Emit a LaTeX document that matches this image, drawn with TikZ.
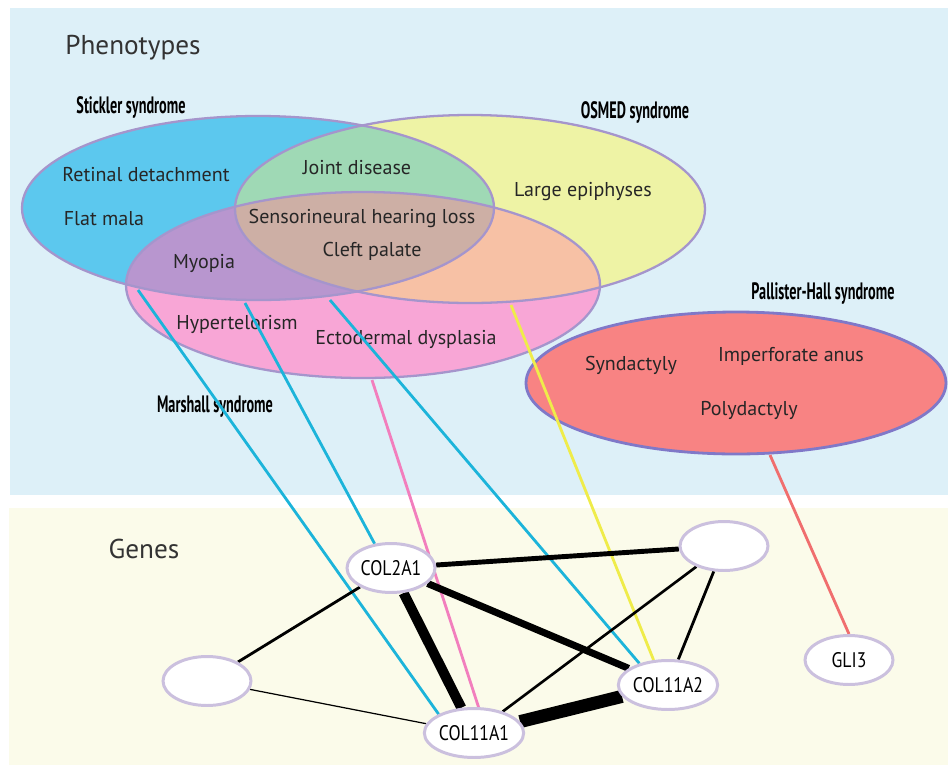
\documentclass[tikz,border=0pt]{standalone}
\usepackage{fontspec}
\setmainfont{PT Sans}
\usepackage{graphicx}
\usepackage{tikz}
\usetikzlibrary{shapes.geometric}
\definecolor{phbg}{HTML}{DDF0F8}
\definecolor{gnbg}{HTML}{FBFBEA}
\definecolor{stkc}{HTML}{5CC8EE}
\definecolor{osmc}{HTML}{EEF3A5}
\definecolor{mshc}{HTML}{F8A6D6}
\definecolor{grnc}{HTML}{9FD9B5}
\definecolor{purc}{HTML}{B896CF}
\definecolor{pchc}{HTML}{F7C1A5}
\definecolor{tanc}{HTML}{CDAFA5}
\definecolor{phc}{HTML}{F88383}
\definecolor{vout}{HTML}{A595CC}
\definecolor{phout}{HTML}{8078C8}
\definecolor{genebd}{HTML}{CBC0DE}
\definecolor{lcyan}{HTML}{1CB4DA}
\definecolor{lpink}{HTML}{F27EBD}
\definecolor{lyel}{HTML}{EFEC4A}
\definecolor{lred}{HTML}{F06E6E}
\pgfdeclarelayer{back}
\pgfdeclarelayer{links}
\pgfsetlayers{back,links,main}
\tikzset{
  ven/.style={draw=vout,line width=1.3pt},
  pht/.style={font=\fontsize{11.4}{13}\selectfont,text=black!85,inner sep=0pt},
  hdr/.style={font=\fontsize{15.5}{17}\selectfont,text=black!80,inner sep=0pt},
  syn/.style={font=\fontsize{13.5}{15}\selectfont\bfseries,inner sep=0pt},
  gene/.style={ellipse,draw=genebd,line width=1.7pt,fill=white,minimum width=1.76cm,minimum height=0.98cm,inner sep=0pt,font=\fontsize{12}{14}\selectfont},
  ppi/.style={line width=#1},
  asc/.style={line width=1.6pt}
}
\newcommand{\estk}{(258,208) ellipse [x radius=236,y radius=92]}
\newcommand{\eosm}{(470,209) ellipse [x radius=235,y radius=94]}
\newcommand{\emsh}{(363,285) ellipse [x radius=237,y radius=93]}
\newcommand{\synd}[1]{\scalebox{0.6}[1]{#1}}
\newcommand{\gn}[1]{\scalebox{0.84}[1]{#1}}

\begin{document}
\begin{tikzpicture}[x=0.02cm,y=-0.02cm]
\useasboundingbox (0,0) rectangle (948,765);
\begin{pgfonlayer}{back}
\fill[phbg] (10,8) rectangle (948,495);
\fill[gnbg] (9,508) rectangle (948,765);
\fill[stkc] \estk;
\fill[osmc] \eosm;
\begin{scope}\clip \estk; \fill[grnc] \eosm; \end{scope}
\fill[mshc] \emsh;
\begin{scope}\clip \emsh; \fill[purc] \estk; \fill[pchc] \eosm; \clip \estk; \fill[tanc] \eosm; \end{scope}
\draw[ven] \estk; \draw[ven] \eosm; \draw[ven] \emsh;
\draw[fill=phc,draw=phout,line width=1.6pt] (736,383) ellipse [x radius=210,y radius=71];
\node[hdr] (phen) at (133,48) {Phenotypes};
\node[syn] (sstk) at (131,107) {\synd{Stickler syndrome}};
\node[syn] (sosm) at (635,112) {\synd{OSMED syndrome}};
\node[syn] (smsh) at (215,407) {\synd{Marshall syndrome}};
\node[syn] (sphs) at (823,293) {\synd{Pallister-Hall syndrome}};
\node[pht] (ret) at (146,175) {Retinal detachment};
\node[pht] (fla) at (104,219) {Flat mala};
\node[pht] (joi) at (357,168) {Joint disease};
\node[pht] (lep) at (583,192) {Large epiphyses};
\node[pht] (shl) at (362,218) {Sensorineural hearing loss};
\node[pht] (cle) at (372,251) {Cleft palate};
\node[pht] (myp) at (204,263) {Myopia};
\node[pht] (hyt) at (237,324) {Hypertelorism};
\node[pht] (ecd) at (406,339) {Ectodermal dysplasia};
\node[pht] (syd) at (631,365) {Syndactyly};
\node[pht] (ima) at (791,356) {Imperforate anus};
\node[pht] (pod) at (749,410) {Polydactyly};
\node[hdr] (gens) at (144,549) {Genes};
\end{pgfonlayer}
\coordinate (myo) at (138,290);
\coordinate (hyp) at (245,303);
\coordinate (ect) at (330,300);
\coordinate (msh) at (372,380);
\coordinate (osm) at (511,305);
\coordinate (phs) at (770,455);
\node[gene] (col2a1) at (391,568) {\gn{COL2A1}};
\node[gene] (gtr) at (724,546) {};
\node[gene] (glf) at (207,681) {};
\node[gene] (col11a2) at (668,685) {\gn{COL11A2}};
\node[gene] (col11a1) at (474,733) {\gn{COL11A1}};
\node[gene] (gli3) at (849,660) {\gn{GLI3}};
\begin{pgfonlayer}{links}
\draw[asc,lcyan] (myo) -- (col11a1.152);
\draw[asc,lcyan] (hyp) -- (col2a1.124);
\draw[asc,lcyan] (ect) -- (col11a2.143);
\draw[asc,lpink] (msh) -- (col11a1.80);
\draw[asc,lyel] (osm) -- (col11a2.120);
\draw[asc,lred] (phs) -- (gli3.90);
\draw[ppi=5.7pt] (col2a1) -- (col11a1);
\draw[ppi=4pt] (col2a1) -- (col11a2);
\draw[ppi=7.4pt] (col11a1) -- (col11a2);
\draw[ppi=2.8pt] (col2a1) -- (gtr);
\draw[ppi=1.6pt] (col2a1) -- (glf);
\draw[ppi=1.5pt] (col11a1) -- (gtr);
\draw[ppi=1.6pt] (col11a2) -- (gtr);
\draw[ppi=0.7pt] (col11a1) -- (glf);
\end{pgfonlayer}
\end{tikzpicture}
\end{document}
